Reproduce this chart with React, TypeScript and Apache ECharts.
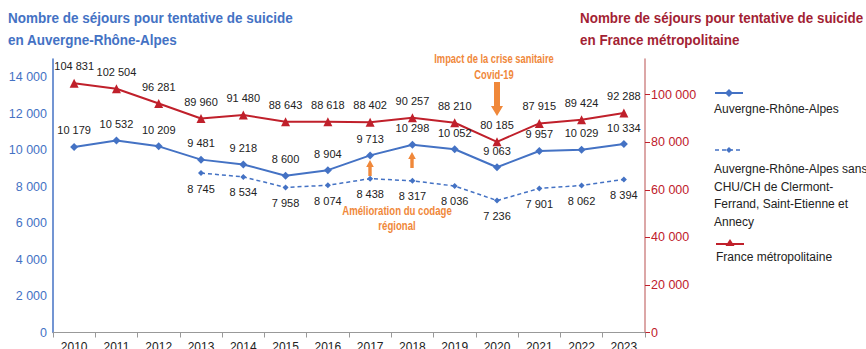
import React, { useEffect, useRef } from "react";
import * as echarts from "echarts";

const years = ["2010", "2011", "2012", "2013", "2014", "2015", "2016", "2017", "2018", "2019", "2020", "2021", "2022", "2023"];
const araValues = [10179, 10532, 10209, 9481, 9218, 8600, 8904, 9713, 10298, 10052, 9063, 9957, 10029, 10334];
const araSansValues = [null, null, null, 8745, 8534, 7958, 8074, 8438, 8317, 8036, 7236, 7901, 8062, 8394];
const franceValues = [104831, 102504, 96281, 89960, 91480, 88643, 88618, 88402, 90257, 88210, 80185, 87915, 89424, 92288];
const leftTicks = [0, 2000, 4000, 6000, 8000, 10000, 12000, 14000];
const rightTicks = [0, 20000, 40000, 60000, 80000, 100000];

const BLUE = "#4472C4";
const RED = "#C0202B";
const DARKRED = "#A31F34";
const ORANGE = "#F0883A";
const FONT = "'Liberation Sans', Arial, sans-serif";

const fmt = (v: number) => String(v).replace(/\B(?=(\d{3})+(?!\d))/g, " ");

export default function App() {
  const ref = useRef<HTMLDivElement>(null);
  useEffect(() => {
    if (!ref.current) return;
    const chart = echarts.init(ref.current, null, { renderer: "svg" });
    const labelBase = { show: true, color: "#222", fontSize: 11, fontFamily: FONT, formatter: (p: any) => fmt(p.value) };
    chart.setOption({
      animation: false,
      textStyle: { fontFamily: FONT },
      grid: { left: 53, right: 221, top: 59, bottom: 16.5, containLabel: false, outerBoundsMode: "none" },
      xAxis: {
        type: "category",
        data: years,
        boundaryGap: true,
        axisLine: { lineStyle: { color: "#999" } },
        axisTick: { show: true, length: 5, lineStyle: { color: "#999" } },
        axisLabel: { color: "#222", fontSize: 12, margin: 8, fontFamily: FONT },
      },
      yAxis: [
        {
          type: "value", min: 0, max: 15000,
          axisLine: { show: true, lineStyle: { color: BLUE, width: 1.5 } },
          axisTick: { show: false },
          splitLine: { show: false },
          axisLabel: { color: BLUE, fontSize: 12.5, margin: 6, customValues: leftTicks, formatter: (v: number) => fmt(v) },
        },
        {
          type: "value", min: 0, max: 115000,
          axisLine: { show: true, lineStyle: { color: "#D08A8A", width: 1.5 } },
          axisTick: { show: true, length: 5, customValues: rightTicks, lineStyle: { color: RED } },
          splitLine: { show: false },
          axisLabel: { color: RED, fontSize: 12.5, margin: 6, customValues: rightTicks, formatter: (v: number) => fmt(v) },
        },
      ],
      series: [
        {
          name: "Auvergne-Rhône-Alpes", type: "line", data: araValues, yAxisIndex: 0,
          symbol: "diamond", symbolSize: 8, lineStyle: { color: BLUE, width: 2 }, itemStyle: { color: BLUE },
          label: { ...labelBase, position: "top", distance: 7 },
        },
        {
          name: "Auvergne-Rhône-Alpes sans CHU/CH", type: "line", data: araSansValues, yAxisIndex: 0,
          symbol: "diamond", symbolSize: 6, lineStyle: { color: BLUE, width: 1.5, type: [4, 3] }, itemStyle: { color: BLUE },
          label: { ...labelBase, position: "bottom", distance: 7 },
        },
        {
          name: "France métropolitaine", type: "line", data: franceValues, yAxisIndex: 1,
          symbol: "triangle", symbolSize: 9, lineStyle: { color: RED, width: 2 }, itemStyle: { color: RED },
          label: { ...labelBase, position: "top", distance: 7 },
        },
      ],
      graphic: [
        { type: "text", x: 8, y: 7, scaleX: 0.9, style: { text: "Nombre de séjours pour tentative de suicide\nen Auvergne-Rhône-Alpes", fill: BLUE, font: `bold 15px ${FONT}`, lineHeight: 22 } },
        { type: "text", x: 580, y: 7, scaleX: 0.895, style: { text: "Nombre de séjours pour tentative de suicide\nen France métropolitaine", fill: DARKRED, font: `bold 15px ${FONT}`, lineHeight: 22 } },
        { type: "text", x: 494, y: 50, scaleX: 0.72, style: { text: "Impact de la crise sanitaire\nCovid-19", fill: ORANGE, font: `bold 13px ${FONT}`, align: "center", lineHeight: 16 } },
        { type: "text", x: 397, y: 203, scaleX: 0.74, style: { text: "Amélioration du codage\nrégional", fill: ORANGE, font: `bold 13px ${FONT}`, align: "center", lineHeight: 15 } },
        { type: "polygon", shape: { points: [[494, 82], [500, 82], [500, 106], [503, 106], [497, 116], [491, 106], [494, 106]] }, style: { fill: ORANGE } },
        { type: "polygon", shape: { points: [[368.3, 176], [371.7, 176], [371.7, 167], [373.8, 167], [370, 160], [366.2, 167], [368.3, 167]] }, style: { fill: ORANGE } },
        { type: "polygon", shape: { points: [[410.3, 168], [413.7, 168], [413.7, 159], [415.8, 159], [412, 152], [408.2, 159], [410.3, 159]] }, style: { fill: ORANGE } },
        { type: "line", shape: { x1: 715, y1: 93, x2: 743, y2: 93 }, style: { stroke: BLUE, lineWidth: 2 } },
        { type: "polygon", shape: { points: [[729, 89], [733, 93], [729, 97], [725, 93]] }, style: { fill: BLUE } },
        { type: "text", left: 714, top: 103, style: { text: "Auvergne-Rhône-Alpes", fill: "#222", font: `12px ${FONT}` } },
        { type: "line", shape: { x1: 715, y1: 150, x2: 743, y2: 150 }, style: { stroke: BLUE, lineWidth: 1.5, lineDash: [4, 3] } },
        { type: "polygon", shape: { points: [[729, 147], [732, 150], [729, 153], [726, 150]] }, style: { fill: BLUE } },
        { type: "text", left: 714, top: 160, style: { text: "Auvergne-Rhône-Alpes sans\nCHU/CH de Clermont-\nFerrand, Saint-Etienne et\nAnnecy", fill: "#222", font: `12px ${FONT}`, lineHeight: 17.7 } },
        { type: "line", shape: { x1: 716, y1: 244, x2: 744, y2: 244 }, style: { stroke: RED, lineWidth: 2 } },
        { type: "polygon", shape: { points: [[730, 239], [734.5, 246], [725.5, 246]] }, style: { fill: RED } },
        { type: "text", left: 716, top: 251, style: { text: "France métropolitaine", fill: "#222", font: `12px ${FONT}` } },
      ],
    });
    return () => chart.dispose();
  }, []);
  return (
    <div style={{ position: "absolute", left: 0, top: 0, width: 866, height: 349, overflow: "hidden" }}>
      <div ref={ref} style={{ width: 866, height: 349 }} />
    </div>
  );
}
